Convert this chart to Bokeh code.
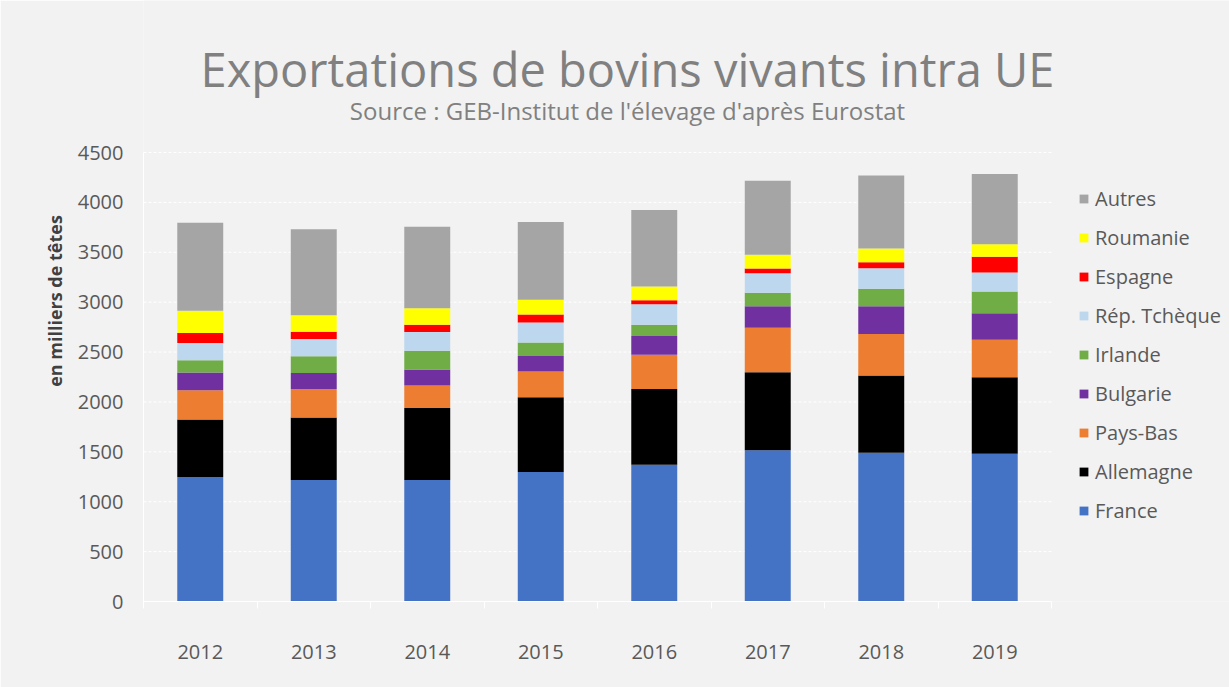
from bokeh.plotting import figure
from bokeh.models import (Range1d, ColumnDataSource, Legend, LegendItem, Label, FixedTicker)
from bokeh.embed import file_html
from bokeh.resources import INLINE

years = ["2012", "2013", "2014", "2015", "2016", "2017", "2018", "2019"]
countries = ["France", "Allemagne", "Pays-Bas", "Bulgarie", "Irlande",
             "Rép. Tchèque", "Espagne", "Roumanie", "Autres"]
colors = ["#4472C4", "#000000", "#ED7D31", "#7030A0", "#70AD47",
          "#BDD7EE", "#FF0000", "#FFFF00", "#A5A5A5"]

france = [1247, 1217, 1217, 1297, 1370, 1517, 1490, 1480]
allemagne = [577, 627, 723, 750, 760, 780, 774, 767]
pays_bas = [293, 286, 224, 257, 344, 447, 416, 377]
bulgarie = [177, 160, 160, 156, 186, 216, 280, 266]
irlande = [123, 167, 190, 137, 114, 134, 174, 217]
rep_tcheque = [173, 173, 186, 200, 206, 196, 206, 190]
espagne = [100, 74, 74, 80, 40, 47, 60, 157]
roumanie = [224, 166, 166, 147, 137, 137, 137, 126]
autres = [883, 860, 817, 780, 767, 743, 733, 704]

y_ticks = [0, 500, 1000, 1500, 2000, 2500, 3000, 3500, 4000, 4500]

series = [france, allemagne, pays_bas, bulgarie, irlande,
          rep_tcheque, espagne, roumanie, autres]

FONT = "Open Sans"
TXT = "#595959"
BG = "#F2F2F2"

W, H = 1229, 687
BORDER_LEFT, BORDER_BOTTOM = 143, 86
FRAME_W, FRAME_H = W - BORDER_LEFT, H - BORDER_BOTTOM
AXIS_PX = 449     # pixel height of the 0..4500 value axis
CAT_PX = 113.5    # pixel width of one year category
n = len(years)
Y_TOP = y_ticks[-1] * FRAME_H / AXIS_PX   # frame extends up to hold the titles
X_END = FRAME_W / CAT_PX                  # frame extends right to hold the legend

xs = [i + 0.5 for i in range(n)]
data = {"x": xs, "year": years}
for name, vals in zip(countries, series):
    data[name] = vals
source = ColumnDataSource(data)

p = figure(width=W, height=H, x_range=Range1d(0, X_END), y_range=Range1d(0, Y_TOP),
           output_backend="svg", toolbar_location=None,
           min_border_left=BORDER_LEFT, min_border_right=0, min_border_top=0,
           min_border_bottom=BORDER_BOTTOM)
p.background_fill_color = BG
p.border_fill_color = BG
p.outline_line_color = None
p.xgrid.visible = False
p.ygrid.visible = False

# horizontal gridlines over the category span only
p.segment(x0=0, x1=n, y0=y_ticks[1:], y1=y_ticks[1:], line_color="#FFFFFF",
          line_dash="3 2", line_width=1)

renderers = p.vbar_stack(countries, x="x", width=0.405, source=source,
                         color=colors, line_color=None)

# y axis
p.yaxis.ticker = y_ticks
p.yaxis.bounds = (y_ticks[0], y_ticks[-1])
p.yaxis.axis_line_color = "#FFFFFF"
p.yaxis.major_tick_line_color = None
p.yaxis.minor_tick_line_color = None
p.yaxis.major_label_text_font = FONT
p.yaxis.major_label_text_font_size = "20px"
p.yaxis.major_label_text_color = TXT
p.yaxis.major_label_standoff = 14
p.yaxis.axis_label = "en milliers de têtes"
p.yaxis.axis_label_text_font = FONT
p.yaxis.axis_label_text_font_style = "bold"
p.yaxis.axis_label_text_font_size = "18px"
p.yaxis.axis_label_text_color = "#404040"
p.yaxis.axis_label_standoff = 8

# x axis: labels at category centres, tick marks between categories
p.xaxis.ticker = FixedTicker(ticks=xs, minor_ticks=list(range(n + 1)))
p.xaxis.major_label_overrides = {x: y for x, y in zip(xs, years)}
p.xaxis.bounds = (0, n)
p.xaxis.axis_line_color = "#FFFFFF"
p.xaxis.major_tick_line_color = None
p.xaxis.major_tick_out = 0
p.xaxis.major_tick_in = 0
p.xaxis.minor_tick_line_color = "#FFFFFF"
p.xaxis.minor_tick_out = 7
p.xaxis.minor_tick_in = 0
p.xaxis.major_label_text_font = FONT
p.xaxis.major_label_text_font_size = "20px"
p.xaxis.major_label_text_color = TXT
p.xaxis.major_label_standoff = 36

# legend
items = [LegendItem(label=c, renderers=[r]) for c, r in zip(countries, renderers)]
items.reverse()
legend = Legend(items=items, location=(935, 77), orientation="vertical",
                glyph_width=11, glyph_height=11, label_height=26, spacing=12,
                label_standoff=6, padding=0, margin=0,
                label_text_font=FONT, label_text_font_size="20px",
                label_text_color=TXT, border_line_color=None,
                background_fill_alpha=0)
p.add_layout(legend, "center")

# titles
p.add_layout(Label(x=484, y=533, x_units="screen", y_units="screen",
                   text="Exportations de bovins vivants intra UE",
                   text_font=FONT, text_font_size="47px", text_color="#808080",
                   text_align="center", text_baseline="middle"))
p.add_layout(Label(x=484, y=491, x_units="screen", y_units="screen",
                   text="Source : GEB-Institut de l'élevage d'après Eurostat",
                   text_font=FONT, text_font_size="24px", text_color="#808080",
                   text_align="center", text_baseline="middle"))

open("out.html", "w").write(file_html(p, INLINE))
